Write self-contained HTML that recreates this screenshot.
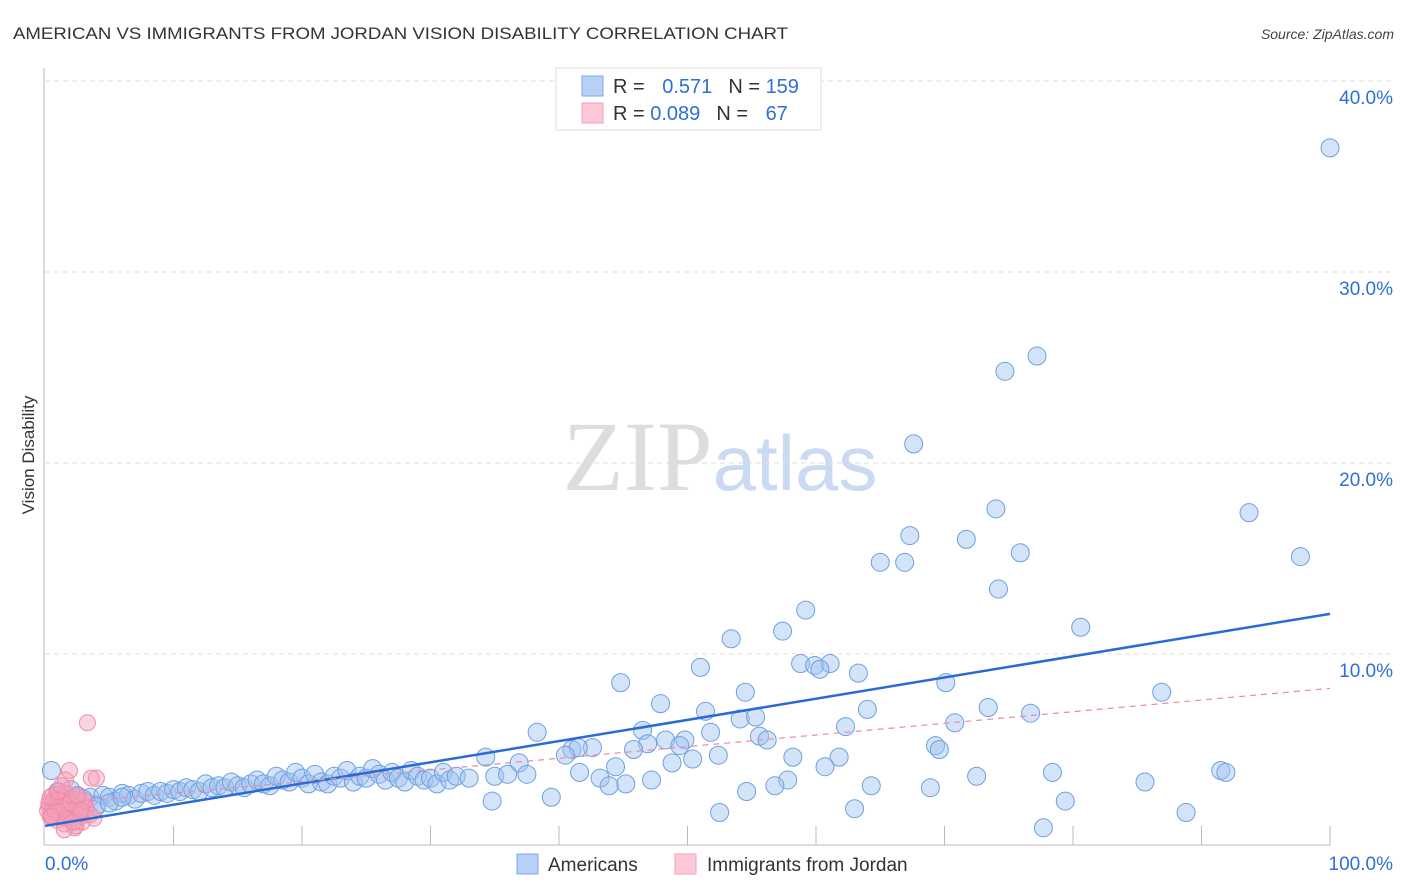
<!DOCTYPE html>
<html><head><meta charset="utf-8"><style>
body{margin:0;background:#fff;font-family:"Liberation Sans",sans-serif;}
svg{display:block}
</style></head><body>
<svg width="1406" height="892" xmlns="http://www.w3.org/2000/svg">
<text x="13" y="39" font-size="17" fill="#333" textLength="775" lengthAdjust="spacingAndGlyphs">AMERICAN VS IMMIGRANTS FROM JORDAN VISION DISABILITY CORRELATION CHART</text>
<text x="1394" y="39" font-size="14" fill="#444" font-style="italic" text-anchor="end">Source: ZipAtlas.com</text>
<text x="720" y="490" font-size="100" text-anchor="middle" fill="#ddd" font-family="Liberation Serif,serif">ZIP<tspan fill="#c9daf2" font-family="Liberation Sans,sans-serif" font-size="78">atlas</tspan></text>
<g id="grid"></g>
<g id="axes"></g>
<text transform="translate(34,455) rotate(-90)" font-size="17" fill="#333" text-anchor="middle">Vision Disability</text>
<g id="pts"></g>
<g id="lines"></g>
<g>
<rect x="556" y="68" width="265" height="62" fill="#fff" stroke="#ddd"/>
<rect x="582" y="76" width="21" height="20" fill="#b8d0f5" stroke="#7fa8e6"/>
<rect x="582" y="103" width="21" height="20" fill="#fcc8d6" stroke="#f2a0b8"/>
<text x="613" y="93" font-size="20" fill="#333">R = <tspan fill="#2e6fd6" dx="12">0.571</tspan><tspan dx="16">N = </tspan><tspan fill="#2e6fd6">159</tspan></text>
<text x="613" y="120" font-size="20" fill="#333">R = <tspan fill="#2e6fd6">0.089</tspan><tspan dx="16">N = </tspan><tspan fill="#2e6fd6" dx="12">67</tspan></text>
</g>
<g>
<rect x="517" y="854" width="21" height="20" fill="#b8d0f5" stroke="#7fa8e6"/>
<text x="548" y="871" font-size="19" fill="#333">Americans</text>
<rect x="675" y="854" width="21" height="20" fill="#fcc8d6" stroke="#f2a0b8"/>
<text x="707" y="871" font-size="19" fill="#333">Immigrants from Jordan</text>
</g>
</svg>
<script>
const yTicks=[10,20,30,40];
const yTickLabels=["10.0%","20.0%","30.0%","40.0%"];
const xTickLabels=["0.0%","100.0%"];
const blueX=[100,77.2,74.7,67.6,74.0,93.7,67.3,71.7,75.9,97.7,65.0,66.9,74.2,59.2,57.4,80.6,53.4,58.8,59.9,61.1,60.3,51.0,63.3,44.8,70.1,86.9,54.5,47.9,64.0,51.4,73.4,76.7,54.1,55.3,62.3,70.8,38.3,46.5,51.8,48.3,49.8,55.6,56.2,46.9,45.8,49.4,42.6,41.0,41.5,40.5,69.3,69.6,34.3,61.8,58.2,52.4,50.4,48.8,36.9,44.4,60.7,91.5,91.9,78.4,72.5,41.6,43.2,47.2,45.2,43.9,57.8,56.8,64.3,68.9,85.6,54.6,39.4,34.8,79.4,63.0,52.5,88.8,77.7,
0.5,1.0,1.5,2.0,2.5,3.0,3.5,4.0,4.5,5.0,5.5,6.0,6.5,7.0,7.5,8.0,8.5,9.0,9.5,10.0,10.5,11.0,11.5,12.0,12.5,13.0,13.5,14.0,14.5,15.0,15.5,16.0,16.5,17.0,17.5,18.0,18.5,19.0,19.5,20.0,20.5,21.0,21.5,22.0,22.5,23.0,23.5,24.0,24.5,25.0,25.5,26.0,26.5,27.0,27.5,28.0,28.5,29.0,29.5,30.0,30.5,31.0,31.5,32.0,33.0,35.0,36.0,37.5,1.0,2.0,3.0,4.0,5.0,6.0];
const blueY=[36.5,25.6,24.8,21.0,17.6,17.4,16.2,16.0,15.3,15.1,14.8,14.8,13.4,12.3,11.2,11.4,10.8,9.5,9.4,9.5,9.2,9.3,9.0,8.5,8.5,8.0,8.0,7.4,7.1,7.0,7.2,6.9,6.6,6.7,6.2,6.4,5.9,6.0,5.9,5.5,5.5,5.7,5.5,5.3,5.0,5.2,5.1,5.0,5.1,4.7,5.2,5.0,4.6,4.6,4.6,4.7,4.5,4.3,4.3,4.1,4.1,3.9,3.8,3.8,3.6,3.8,3.5,3.4,3.2,3.1,3.4,3.1,3.1,3.0,3.3,2.8,2.5,2.3,2.3,1.9,1.7,1.7,0.9,
3.9,2.8,2.4,2.2,2.6,2.3,2.5,2.1,2.6,2.5,2.3,2.7,2.6,2.4,2.7,2.8,2.6,2.8,2.7,2.9,2.8,3.0,2.9,2.8,3.2,3.0,3.1,3.0,3.3,3.1,3.0,3.2,3.4,3.2,3.1,3.6,3.4,3.3,3.8,3.5,3.2,3.7,3.3,3.2,3.6,3.5,3.9,3.3,3.6,3.5,4.0,3.7,3.4,3.8,3.5,3.3,3.9,3.6,3.4,3.5,3.2,3.8,3.4,3.6,3.5,3.6,3.7,3.7,2.6,2.9,2.4,2.0,2.2,2.5];
const pinkX=[3.3,1.9,4.0,1.6,0.3,0.5,0.8,1.0,1.2,1.4,1.6,1.8,2.0,2.2,2.5,2.8,3.0,3.5,0.4,0.6,0.9,1.1,1.3,1.5,1.7,1.9,2.1,2.3,2.6,2.9,3.2,3.8,0.2,0.5,0.7,1.0,1.2,1.4,1.6,1.8,2.0,2.4,2.7,3.1,0.3,0.6,0.9,1.1,1.3,1.5,1.7,2.0,2.3,0.4,0.8,1.2,1.6,2.0,2.4,2.8,0.5,1.0,1.5,2.2,3.6,1.3,2.5];
const pinkY=[6.4,3.9,3.5,3.4,2.0,2.3,1.8,2.1,2.5,1.9,2.2,1.6,2.0,2.4,1.8,1.5,2.1,1.6,1.5,2.6,2.2,1.7,2.0,2.4,1.9,1.4,2.2,1.8,2.5,1.2,1.9,1.4,1.8,1.6,2.3,1.9,1.5,2.1,2.7,1.7,1.3,2.0,1.6,2.3,2.2,1.9,1.3,2.4,1.8,1.1,2.1,1.7,0.9,2.5,1.7,2.0,1.4,2.2,1.0,1.8,1.5,2.8,0.8,1.2,3.5,3.1,2.6];
const blueTrend=[1.0,12.1];
const pinkTrend=[2.1,8.2];
const X0=45,X1=1330,Y0=845,PY=19.1;
const xs=v=>X0+v*(X1-X0)/100, ys=v=>Y0-v*PY;
const NS="http://www.w3.org/2000/svg";
function mk(tag,attrs,parent){const e=document.createElementNS(NS,tag);for(const k in attrs)e.setAttribute(k,attrs[k]);document.getElementById(parent).appendChild(e);return e;}
yTicks.forEach((t,i)=>{
 const g=mk('line',{x1:X0,x2:1392,y1:ys(t),y2:ys(t),stroke:'#ddd','stroke-dasharray':'5,4'},'grid');
 
 
 const l=mk('text',{x:1393,y:ys(t)+23,'font-size':19,fill:'#2e6fd6','text-anchor':'end'},'grid');
 l.textContent=yTickLabels[i];
 
 
});
const ax=mk('line',{x1:44,x2:44,y1:68,y2:845,stroke:'#bbb'},'axes');


const bx=mk('line',{x1:44,x2:1330,y1:845,y2:845,stroke:'#bbb'},'axes');


for(let i=1;i<=10;i++){const t=mk('line',{x1:xs(i*10),x2:xs(i*10),y1:826,y2:845,stroke:'#bbb'},'axes');
 
 }
[[0,'start',45],[1,'end',1393]].forEach(([i,a,x])=>{const l=mk('text',{x:x,y:870,'font-size':19,fill:'#2e6fd6','text-anchor':a},'axes');l.textContent=xTickLabels[i];
 
 });
blueX.forEach((v,i)=>{const c=mk('circle',{cx:xs(v),cy:ys(blueY[i]),r:9,fill:'rgba(160,195,240,0.45)',stroke:'#6e9fe2','stroke-width':1},'pts');
 
 });
pinkX.forEach((v,i)=>{const c=mk('circle',{cx:xs(v),cy:ys(pinkY[i]),r:8,fill:'rgba(245,160,185,0.45)',stroke:'#f08aa8','stroke-width':1},'pts');
 
 });
const bl=mk('line',{x1:xs(0),y1:ys(blueTrend[0]),x2:xs(100),y2:ys(blueTrend[1]),stroke:'#2a6ad6','stroke-width':2.5},'lines');


const pl=mk('line',{x1:xs(0),y1:ys(pinkTrend[0]),x2:xs(100),y2:ys(pinkTrend[1]),stroke:'#e88aa5','stroke-width':1.2,'stroke-dasharray':'6,5'},'lines');


</script>
</body></html>
